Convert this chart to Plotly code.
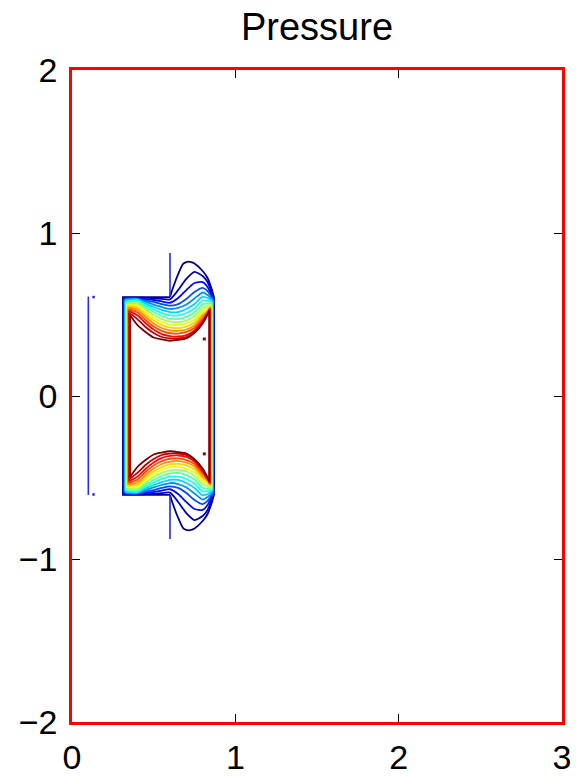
import plotly.graph_objects as go

arc_x = [0.40, 0.45, 0.50, 0.55, 0.60, 0.65, 0.70, 0.75, 0.80, 0.83]

# outermost (dark blue) contour, top half
outer_x = [0.312, 0.312, 0.600, 0.620, 0.650, 0.680, 0.700, 0.730, 0.750, 0.800, 0.830, 0.857, 0.870, 0.870]
outer_y = [0.0, 0.607, 0.607, 0.669, 0.748, 0.810, 0.822, 0.822, 0.813, 0.767, 0.724, 0.650, 0.601, 0.0]

# remaining contour levels (blue -> red), top half
wall_left_x = [0.315, 0.318, 0.321, 0.324, 0.327, 0.329, 0.332, 0.335, 0.338, 0.341, 0.344, 0.347, 0.349, 0.352, 0.355]
wall_left_top = [0.604, 0.600, 0.596, 0.592, 0.587, 0.581, 0.575, 0.568, 0.560, 0.552, 0.543, 0.533, 0.522, 0.510, 0.497]
wall_right_x = [0.868, 0.866, 0.864, 0.862, 0.860, 0.858, 0.856, 0.854, 0.852, 0.850, 0.848, 0.846, 0.844, 0.842, 0.840]
wall_right_top = [0.598, 0.595, 0.592, 0.589, 0.583, 0.577, 0.571, 0.564, 0.558, 0.552, 0.546, 0.540, 0.534, 0.528, 0.521]
arc_y = [
    [0.604, 0.602, 0.600, 0.596, 0.593, 0.650, 0.718, 0.761, 0.736, 0.699],
    [0.601, 0.595, 0.589, 0.580, 0.572, 0.601, 0.650, 0.693, 0.699, 0.669],
    [0.598, 0.586, 0.577, 0.564, 0.554, 0.564, 0.595, 0.638, 0.663, 0.644],
    [0.595, 0.577, 0.561, 0.546, 0.534, 0.540, 0.561, 0.598, 0.635, 0.620],
    [0.592, 0.567, 0.546, 0.528, 0.514, 0.515, 0.534, 0.564, 0.610, 0.601],
    [0.586, 0.555, 0.531, 0.509, 0.495, 0.494, 0.509, 0.537, 0.586, 0.583],
    [0.578, 0.543, 0.515, 0.491, 0.474, 0.472, 0.485, 0.512, 0.564, 0.567],
    [0.568, 0.531, 0.497, 0.472, 0.456, 0.454, 0.463, 0.491, 0.543, 0.552],
    [0.556, 0.515, 0.479, 0.454, 0.437, 0.436, 0.445, 0.469, 0.525, 0.540],
    [0.544, 0.500, 0.463, 0.436, 0.419, 0.417, 0.426, 0.451, 0.506, 0.528],
    [0.530, 0.485, 0.445, 0.417, 0.403, 0.399, 0.408, 0.433, 0.491, 0.518],
    [0.514, 0.466, 0.426, 0.399, 0.385, 0.383, 0.393, 0.417, 0.475, 0.512],
    [0.495, 0.448, 0.408, 0.380, 0.368, 0.365, 0.374, 0.402, 0.463, 0.506],
    [0.472, 0.423, 0.387, 0.362, 0.354, 0.353, 0.362, 0.393, 0.454, 0.503],
    [0.436, 0.393, 0.359, 0.347, 0.339, 0.344, 0.353, 0.387, 0.445, 0.500],
]

# stray segments / points
spike_x = [0.600, 0.600]
spike_y = [0.607, 0.877]
side_x = [0.100, 0.100]
side_y = [0.610, -0.607]
dot_blue_x = [0.132, 0.132]
dot_blue_y = [0.607, -0.604]
dot_red_x = [0.810, 0.810]
dot_red_y = [0.350, -0.355]


def jet(t):
    def c(v):
        return int(round(255 * max(0.0, min(1.0, v))))
    r = 1.5 - abs(4 * t - 3)
    g = 1.5 - abs(4 * t - 2)
    b = 1.5 - abs(4 * t - 1)
    return "rgb(%d,%d,%d)" % (c(r), c(g), c(b))


fig = go.Figure()
n = len(arc_y) + 1
lw = 1.8


def add_line(xs, ys, color, spline=False):
    line = dict(color=color, width=lw)
    if spline:
        line.update(shape="spline", smoothing=0.6)
    fig.add_trace(go.Scatter(x=xs, y=ys, mode="lines", line=line))


# outermost level: wall + hump on top, mirrored below
c0 = jet(0.02)
add_line(outer_x[:3], outer_y[:3], c0)
add_line(outer_x[2:-1], outer_y[2:-1], c0, spline=True)
add_line(outer_x[-2:], outer_y[-2:], c0)
add_line(outer_x[:3], [-v for v in outer_y[:3]], c0)
add_line(outer_x[2:-1], [-v for v in outer_y[2:-1]], c0, spline=True)
add_line(outer_x[-2:], [-v for v in outer_y[-2:]], c0)

for k, ys in enumerate(arc_y):
    col = jet((k + 1) / (n - 1))
    xs = [wall_left_x[k]] + arc_x + [wall_right_x[k]]
    yy = [wall_left_top[k]] + ys + [wall_right_top[k]]
    add_line(xs, yy, col, spline=True)
    add_line(xs, [-v for v in yy], col, spline=True)
    add_line([wall_left_x[k], wall_left_x[k]], [wall_left_top[k], -wall_left_top[k]], col)
    add_line([wall_right_x[k], wall_right_x[k]], [wall_right_top[k], -wall_right_top[k]], col)

blue = "rgb(40,40,230)"
for sy in (spike_y, [-v for v in spike_y]):
    fig.add_trace(go.Scatter(x=spike_x, y=sy, mode="lines", line=dict(color=blue, width=1.6)))
fig.add_trace(go.Scatter(x=side_x, y=side_y, mode="lines", line=dict(color=blue, width=1.6)))
fig.add_trace(go.Scatter(x=dot_blue_x, y=dot_blue_y, mode="markers",
                         marker=dict(color=blue, size=2.5, symbol="square")))
fig.add_trace(go.Scatter(x=dot_red_x, y=dot_red_y, mode="markers",
                         marker=dict(color="rgb(150,0,0)", size=3, symbol="square")))

axis_common = dict(
    showgrid=False, zeroline=False, automargin=False,
    showline=True, linecolor="red", linewidth=2.5, mirror="ticks",
    ticks="inside", ticklen=8, tickcolor="black", tickwidth=1,
    tickfont=dict(size=34, color="black"),
)

fig.update_layout(
    width=576, height=776,
    margin=dict(l=72, r=14, t=70, b=54),
    paper_bgcolor="white", plot_bgcolor="white",
    showlegend=False,
    font=dict(family="Liberation Sans, Arial, sans-serif", color="black"),
    title=dict(text="Pressure", xref="paper", x=0.5, xanchor="center",
               yref="container", y=1 - 13 / 776, yanchor="top",
               font=dict(size=38, color="black")),
    xaxis=dict(range=[0, 3], tickvals=[0, 1, 2, 3], ticklabelstandoff=3, **axis_common),
    yaxis=dict(range=[-2, 2], tickvals=[-2, -1, 0, 1, 2], ticklabelstandoff=5, **axis_common),
)

fig.write_html("out.html", config={"displayModeBar": False},
               post_script="document.body.style.margin='0';document.body.style.overflow='hidden';")
